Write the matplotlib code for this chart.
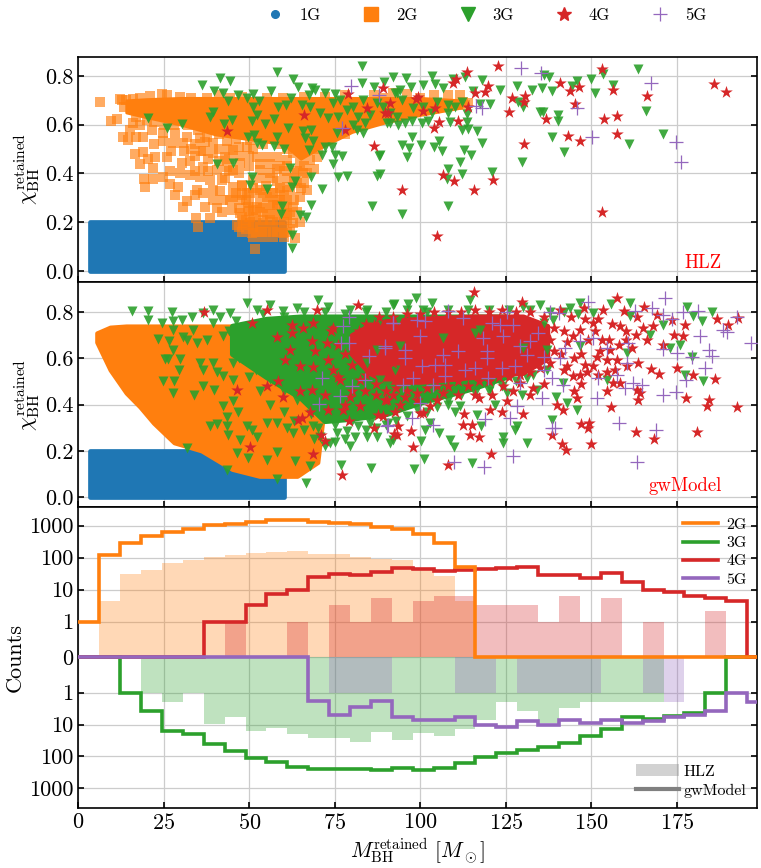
import numpy as np
import matplotlib
matplotlib.use("Agg")
import matplotlib.pyplot as plt
from matplotlib.lines import Line2D
from matplotlib.patches import Patch

plt.rcParams["font.family"] = "cmr10"
plt.rcParams["mathtext.fontset"] = "cm"
plt.rcParams["axes.unicode_minus"] = False
plt.rcParams["axes.formatter.use_mathtext"] = True

BLUE, ORANGE, GREEN, RED, PURPLE = "#1f77b4", "#ff7f0e", "#2ca02c", "#d62728", "#9467bd"

# Solid parts of the clouds, given as mass with lower and upper spin
hlz_1g_core = ([3.3, 60.0], [0.0, 0.0], [0.2, 0.2])
hlz_2g_band = ([14, 20, 30, 40, 60, 65, 70, 80, 90, 100, 112],
               [.65, .63, .60, .56, .52, .46, .50, .57, .61, .64, .67],
               [.70, .705, .71, .71, .71, .71, .71, .71, .71, .71, .70])
gw_1g_core = ([3.3, 60.0], [0.0, 0.0], [0.2, 0.2])
gw_2g_core = ([5.4, 9.3, 14, 18, 22, 28, 36, 45, 53, 64, 70, 72],
              [.67, .55, .45, .39, .32, .235, .2, .12, .09, .09, .15, .40],
              [.71, .735, .74, .74, .74, .74, .74, .74, .74, .74, .74, .74])
gw_3g_core = ([45, 55, 65, 72, 80, 90, 100, 115, 125],
              [.62, .52, .43, .33, .34, .36, .41, .47, .52],
              [.74, .77, .78, .78, .78, .78, .78, .78, .78])
gw_4g_core = ([80, 85, 90, 100, 115, 130, 137],
              [.62, .54, .50, .50, .52, .54, .60],
              [.70, .74, .76, .77, .78, .78, .74])

# Points of the upper panel (mass, spin)
hlz_2g = np.array([
    (6.3, .692), (9.6, .616), (11.2, .622), (12.7, .702), (13.4, .674), (13.2, .551), (14.6, .538),
    (16.9, .551), (16.6, .479), (19, .486), (18, .438), (20.5, .458), (22.4, .469), (21.7, .421),
    (19.2, .376), (21.9, .376), (19.5, .343), (24.9, .387), (26.8, .356), (29.2, .346), (28.3, .312),
    (30.5, .524), (27.8, .524), (24.9, .531), (25.8, .469), (26.8, .408), (29.7, .401), (32.7, .394),
    (35.8, .49), (32.7, .449), (30.2, .442), (30.7, .264), (31.9, .285), (34.1, .312), (36.5, .319),
    (37, .264), (40.4, .257), (38.5, .216), (34.3, .216), (35.1, .182), (41.9, .243), (44.8, .25),
    (44.3, .291), (47.3, .237), (48.2, .196), (46.5, .189), (50.7, .155), (53.6, .161), (57, .161),
    (59.9, .155), (63.4, .134), (51.7, .089), (39.5, .332), (41.4, .326), (38.5, .373), (41.9, .373),
    (45.3, .415), (47.3, .442), (43.4, .428), (40.4, .415), (36.5, .428), (35.6, .387), (39.5, .524),
    (43.4, .531), (37.5, .551), (35.6, .544), (31.7, .551), (28.3, .565), (24.9, .565), (21.4, .579),
    (18, .599), (16.1, .606), (48.2, .565), (49.2, .51), (52.1, .469), (56, .401), (54.1, .38),
    (51.2, .373), (49.2, .319), (52.1, .319), (55.1, .305), (58, .291), (60.9, .346), (63.8, .36),
    (65.8, .401), (64.8, .305), (62.9, .264), (60.9, .237), (58, .209), (55.1, .237), (52.1, .264),
    (50.2, .223), (54.1, .196), (51.2, .182), (58, .25), (62.9, .196), (64.8, .202), (59, .326),
    (53.1, .415), (55.1, .469), (58, .469), (60.9, .456), (62.9, .483), (64.8, .442), (67.7, .456),
    (66.8, .401), (69.7, .469), (45.3, .346), (47.8, .353), (45.3, .305), (49.7, .264), (47.3, .291),
    (42.4, .291), (39.5, .291), (34.6, .332), (36.5, .49), (39.5, .483), (42.9, .469), (45.3, .497),
    (50.2, .538), (12.2, .706), (16.1, .706), (21, .718), (24.6, .726), (29.7, .715), (37.5, .709),
    (44.3, .709), (55.1, .711), (59.9, .711), (86.3, .722), (111.6, .722), (112.6, .695),
    (48, .16), (51, .14), (54, .14), (57, .14), (60, .14), (62, .17), (47, .18), (50, .19), (53, .18),
    (56, .18), (59, .18), (61, .21), (48, .22), (52, .22), (56, .21), (59, .23), (62, .23), (64, .24),
    (47, .26), (51, .25), (54, .26), (57, .27), (60, .27), (63, .29), (46, .32), (49, .29), (51, .34),
    (54, .32), (57, .32), (60, .31), (62, .33), (65, .34), (48, .35), (55, .35), (58, .37), (61, .38),
    (63, .40), (66, .36), (67, .33), (41, .56), (44, .57), (46, .54), (47, .51), (51, .5), (54, .52),
    (56, .55), (59, .52), (61, .5), (63, .53), (66, .50), (68, .52), (70, .5), (72, .55), (75, .56),
    (78, .56), (66, .43), (69, .42), (59, .43), (56, .44), (50, .43), (47, .40), (43, .38), (44, .46),
    (38, .46), (34, .41), (33, .5), (35, .58), (32, .6), (28, .6), (25, .6), (22, .61), (20, .62),
    (17, .63), (27, .49), (22, .52), (19, .55), (15, .58), (37, .61), (42, .6), (14, .7), (18, .71),
    (26, .72), (33, .71), (41, .72), (48, .715), (66, .715), (72, .715), (78, .72), (92, .73), (96, .725),
    (104, .72), (108, .72), (89, .71), (100, .71), (114, .69), (113, .68),
    (49, .17), (52, .16), (55, .16), (58, .16), (61, .16), (49, .21), (51, .2), (54, .21), (57, .2),
    (60, .2), (50, .245), (53, .24), (56, .235), (58, .27), (61, .25), (50, .28), (53, .28), (56, .28),
    (59, .29), (61, .29), (48, .31), (50, .32), (53, .33), (56, .32), (59, .34), (57, .38), (60, .41),
    (63, .37), (58, .42), (61, .43), (64, .41), (53, .44), (50, .47), (47, .47), (44, .5), (41, .5),
    (37, .53), (34, .52), (31, .49), (34, .47), (41, .45), (38, .41), (44, .41),
])
hlz_3g = np.array([
    (20.5, .627), (25.8, .588), (30.2, .603), (36.3, .763), (41.4, .793), (44.2, .781), (39.8, .739),
    (42.4, .729), (38.5, .633), (39.5, .651), (42.6, .603), (45, .62), (43.9, .698), (46.8, .722),
    (49.4, .709), (51.2, .725), (52.9, .698), (56.2, .739), (58, .818), (62.9, .788), (64.3, .754),
    (51, .674), (52.3, .64), (50.7, .613), (54.6, .602), (57.3, .622), (58.5, .674), (61.4, .585),
    (62.1, .709), (60.7, .681), (65.3, .681), (68.2, .75), (69.2, .743), (67.3, .722), (72.1, .729),
    (74.9, .726), (82.8, .839), (82.8, .77), (91.9, .797), (89.4, .777), (86.5, .754), (49.7, .551),
    (51.5, .558), (52.1, .524), (53.6, .517), (58.2, .551), (57.3, .514), (60.1, .501), (65.8, .572),
    (67.9, .579), (66.3, .544), (68.7, .531), (67.5, .497), (71.2, .476), (72.1, .51), (74.1, .51),
    (74.9, .476), (77.2, .473), (74.6, .438), (76, .387), (78.5, .391), (87.4, .391), (88, .473),
    (85.8, .267), (40.4, .438), (45.3, .442), (50.7, .387), (50.2, .353), (55.3, .337), (63.4, .367),
    (62.4, .346), (67.9, .387), (71.2, .337), (61.9, .424), (67.9, .271), (59.6, .267), (59.4, .234),
    (64.8, .23), (66.5, .22), (62.6, .148), (62.6, .093), (95.7, .793), (97.2, .756), (100.9, .763),
    (103.3, .8), (104.3, .767), (106.5, .752), (109.6, .787), (113, .797), (117.9, .784), (115.5, .74),
    (123.3, .743), (128.2, .759), (132.5, .743), (135.5, .752), (138.4, .74), (137.7, .795), (136, .802),
    (144.2, .759), (145.9, .781), (149.8, .788), (151.1, .729), (153.3, .808), (156.4, .763), (163.7, .829),
    (166, .657), (171, .562), (161.1, .521), (142.1, .487), (138.6, .551), (129.8, .446), (135, .651),
    (135.9, .654), (140.3, .64), (140.1, .617), (130.1, .672), (128.6, .692), (120.4, .685), (117.4, .685),
    (113.5, .644), (113.7, .61), (112.1, .579), (114, .581), (116.5, .575), (117.9, .524), (112.9, .497),
    (114.7, .476), (111.6, .446), (112.1, .398), (108, .417), (121, .405), (108, .267), (107.7, .376),
    (94.7, .234), (94.5, .517), (96.8, .506), (96, .469), (100.3, .517), (104.1, .51), (105.5, .531),
    (106.4, .49), (97.5, .551), (88.2, .476), (88.2, .398), (90.1, .606), (93.6, .599), (95.5, .606),
    (97.5, .617), (100.4, .606), (102.3, .613), (108.7, .609), (108.2, .647), (103.3, .647), (97.9, .668),
    (94.5, .702), (92.6, .729), (94, .743), (100.9, .674), (104.8, .695), (108.2, .681), (110.1, .674),
    (112.1, .695), (91.1, .647), (74.6, .688), (76.5, .702), (78.5, .661), (80.4, .674), (81.9, .633),
    (83.8, .606), (80.4, .599), (85.3, .64), (87.2, .688), (91.1, .606), (93.1, .633), (89.2, .674),
    (76, .633), (73.1, .627), (70.7, .647), (67.7, .674), (83.3, .702), (83.3, .565), (81.4, .579),
    (93.1, .729), (75.5, .565),
])
hlz_4g = np.array([
    (89.2, .75), (113.7, .818), (122.8, .841), (153, .828), (185.7, .765), (189.3, .736), (110.4, .787),
    (109.6, .77), (119.7, .759), (116, .729), (118.9, .733), (140.8, .773), (143.6, .74), (146.5, .756),
    (156.4, .743), (126.9, .711), (130.6, .718), (130.3, .692), (166.2, .718), (145.2, .684), (125.9, .654),
    (153.7, .625), (157.4, .636), (136.6, .625), (114, .672), (100.9, .658), (104.3, .668), (99.4, .713),
    (91.1, .688), (90.6, .647), (98.7, .705), (111.1, .613), (105.5, .609), (104.1, .588), (143.3, .555),
    (146.7, .535), (157.4, .562), (130.3, .521), (106.5, .394), (109.8, .367), (121.1, .373), (115.8, .332),
    (94.7, .332), (105, .144), (153, .243), (43.6, .572), (66, .64), (78.8, .725), (78, .579), (84.3, .67),
    (89.7, .647), (86.3, .514),
])
hlz_5g = np.array([
    (129.3, .832), (135.2, .814), (167.3, .77), (116.3, .677), (117.9, .668), (145.9, .668), (150.3, .549),
    (174.6, .527), (176.2, .446), (79.6, .759), (88, .72), (77.2, .588),
])

# Points of the middle panel (mass, spin)
gw_3g = np.array([
    (15.8, .806), (20.3, .806), (20.3, .764), (24.6, .755), (27.5, .8), (27.8, .76), (33.3, .778),
    (30.2, .764), (23.4, .685), (26.6, .676), (30.5, .692), (27.8, .637), (25.3, .598), (26.3, .598),
    (29.7, .598), (29.4, .548), (24.9, .5), (28.1, .5), (27.8, .45), (31.9, .212), (33.9, .443),
    (36.5, .479), (39.8, .464), (38.5, .306), (40.6, .317), (43.4, .306), (43.7, .267), (43.4, .346),
    (42.4, .392), (45.3, .414), (46.8, .37), (46.5, .19), (49.7, .169), (43.4, .115), (76.7, .14),
    (85.5, .125), (66.6, .06), (58.2, .079), (67.7, .135), (63.4, .154), (55.1, .161), (58, .197),
    (49.2, .306), (50.7, .291), (52.1, .262), (55.1, .32), (58, .32), (60.9, .298), (62.9, .277),
    (47.3, .248), (36.5, .796), (39.5, .81), (41.4, .781), (44.3, .796), (49.2, .839), (52.1, .81),
    (56, .832), (59.9, .803), (63.8, .817), (70.2, .853), (73.1, .824), (79.4, .81), (84.3, .81),
    (92.1, .832), (34.6, .666), (37.5, .68), (35.6, .579), (39.5, .579), (42.4, .522), (45.3, .579),
    (39.5, .752), (42.4, .695), (31.7, .68), (33.6, .724), (27.8, .724), (36.5, .551), (40.4, .543),
    (45.3, .507), (73.6, .234), (79.4, .219), (84.3, .262), (87.2, .262), (91.1, .234), (70.7, .262),
    (75.5, .277), (78.5, .284), (81.9, .306), (85.3, .32), (68.7, .306), (98.7, .863), (103.3, .839),
    (114.5, .853), (92.3, .836), (96.5, .836), (146.7, .839), (150.6, .796), (155.6, .835), (161.3, .839),
    (161.3, .784), (171, .745), (177.9, .824), (179.6, .784), (182.3, .76), (185.2, .799), (167.1, .702),
    (173, .644), (175.9, .659), (179.5, .608), (177.4, .529), (182.5, .503), (160.3, .623), (154.5, .507),
    (146.7, .652), (142.8, .406), (145.7, .375), (139.6, .435), (138.4, .332), (131.1, .236), (127.7, .291),
    (128.2, .308), (124.1, .262), (124.3, .236), (129.6, .443), (125.2, .45), (121.8, .399), (116.5, .356),
    (117.7, .308), (110.1, .37), (108.2, .399), (111.6, .392), (108.7, .248), (109.8, .215), (105.5, .277),
    (101.4, .291), (102.8, .32), (100.2, .241), (101.2, .166), (98.2, .121), (115, .147), (92.1, .245),
    (90.6, .32), (91.1, .464), (97.9, .428), (120.4, .471), (131.1, .515), (134, .464), (141.8, .493),
    (130.1, .824), (135, .832), (143.8, .817), (47, .6), (50, .52), (53, .46), (56, .4), (60, .37), (63, .33),
    (66, .29), (69, .25), (72, .22), (75, .24), (78, .25), (81, .26), (84, .29), (87, .3), (90, .31), (93, .33),
    (96, .35), (99, .38), (102, .37), (105, .39), (108, .42), (112, .44), (116, .45), (120, .46), (124, .48),
    (128, .5), (133, .53), (137, .55), (70, .3), (75, .31), (80, .33), (85, .35), (60, .46), (64, .42),
    (68, .36), (52, .55), (56, .51), (48, .66), (44, .72), (46, .76), (54, .79), (60, .78), (66, .8), (72, .8),
    (78, .79), (84, .8), (90, .8), (96, .81), (102, .8), (108, .81), (114, .81), (120, .81), (126, .81),
    (132, .81), (138, .8), (142, .8), (146, .79),
])
# 3G points that stay visible through the 4G crowd
gw_3g_front = np.array([
    (88.2, .767), (116, .709), (117.4, .724), (106.7, .688), (130.1, .644), (136.9, .637), (138.9, .767),
    (136, .752), (94, .652), (93.6, .767), (100.9, .81), (92.6, .551), (98.4, .45), (94, .45), (90.1, .479),
    (98.9, .421), (87.2, .637), (88.2, .507), (84.3, .378), (84.3, .579), (92.1, .464), (88.2, .392),
])
gw_4g = np.array([
    (36.7, .8), (55.1, .81), (50.9, .752), (58.2, .692), (61.9, .637), (60.4, .594), (64.8, .565),
    (58.5, .503), (55.1, .479), (46.5, .464), (59.9, .435), (64.8, .457), (68.2, .464), (65.3, .342),
    (64.3, .334), (67.7, .37), (70.9, .27), (72.1, .241), (68.7, .186), (50.2, .215), (77.2, .094),
    (69.7, .81), (81.9, .832), (62.4, .745), (65.8, .731), (62.4, .709), (68.7, .752), (68.2, .673),
    (69.2, .63), (68.7, .562), (73.1, .378), (73.1, .594), (74.6, .731), (76.5, .507), (77.4, .378),
    (79, .327), (82.4, .392), (86.3, .298), (87.7, .356), (92.6, .37), (93.1, .27), (89.7, .421),
    (79.4, .435), (86.3, .745), (74.6, .551), (82.4, .507), (80.4, .637), (72.6, .666), (83.8, .457),
    (92.1, .579), (115.8, .889), (157.4, .861), (165.5, .824), (186.8, .77), (190, .745), (193, .774),
    (177.4, .745), (169.1, .788), (173.5, .767), (163.2, .781), (174, .702), (176.9, .695), (166.2, .68),
    (171, .659), (167.3, .554), (169.9, .532), (175.1, .558), (179.8, .529), (186, .512), (163.7, .579),
    (161.8, .644), (157.4, .594), (154.5, .594), (151.6, .608), (148.6, .543), (144.7, .522), (156.4, .493),
    (154.5, .457), (163.2, .464), (164.2, .45), (163.7, .421), (177.7, .428), (184.5, .418), (183.7, .392),
    (192.5, .388), (155.7, .388), (144.9, .457), (145.9, .428), (139.9, .399), (141.8, .378), (130.1, .36),
    (125.2, .414), (120.4, .378), (123.8, .37), (112.9, .359), (112.6, .313), (115, .313), (114.5, .27),
    (117, .259), (100.9, .363), (97.2, .288), (93.6, .306), (92.3, .272), (97.9, .215), (108.2, .14),
    (120.6, .186), (138.6, .27), (141.3, .229), (142.6, .205), (149.9, .229), (146.9, .317), (149.4, .32),
    (149.1, .298), (163.1, .28), (168.4, .252), (180.8, .281), (132.1, .443), (129.1, .493), (124.3, .479),
    (117, .428), (111.1, .443), (106.7, .45), (102.8, .392), (94, .399), (95.5, .435), (90.1, .421),
    (89.2, .349), (100, .363), (129.6, .846), (140.8, .81), (147.7, .817), (153.5, .81), (159.4, .803),
    (150.6, .752), (153, .68), (158.4, .738), (146.7, .724), (144.7, .695), (142.8, .565), (146.7, .529),
    (150.6, .565), (152.5, .63), (155.5, .637), (160.3, .565), (158.4, .493), (154.5, .543),
    (74, .72), (76, .66), (78, .62), (80, .57), (82, .72), (84, .67), (86, .6), (84, .53), (87, .49), (90, .46),
    (93, .47), (96, .46), (99, .45), (102, .47), (105, .48), (108, .48), (111, .5), (114, .48), (117, .5),
    (120, .5), (123, .52), (126, .52), (129, .53), (132, .54), (135, .56), (138, .58), (139, .63), (138, .68),
    (139, .73), (136, .78), (132, .8), (128, .8), (124, .81), (120, .8), (116, .81), (112, .8), (108, .8),
    (104, .8), (100, .79), (96, .79), (92, .78), (88, .78), (84, .75), (141, .62), (143, .67), (145, .6),
    (142, .72), (147, .62), (149, .68), (151, .72), (152, .77), (156, .75), (160, .72), (163, .7), (155, .68),
    (158, .66), (148, .77), (144, .78), (160, .68), (165, .73), (168, .74), (142, .55), (148, .57), (157, .55),
    (152, .53), (147, .49), (136, .49), (133, .47), (127, .46), (121, .44), (116, .44), (105, .42), (99, .42),
    (92, .44), (87, .44), (80, .46), (76, .52), (72, .44), (78, .4),
])
gw_5g = np.array([
    (171.5, .861), (149.1, .846), (167.6, .817), (162.8, .803), (170.9, .788), (173.5, .77), (176.9, .8),
    (181.3, .807), (192.7, .777), (188.6, .724), (189.6, .716), (181.8, .695), (196.6, .666), (184.5, .637),
    (185.4, .611), (170.9, .64), (175, .623), (179.3, .608), (183.2, .558), (177.6, .507), (170.9, .443),
    (174.7, .453), (151.7, .428), (158.2, .32), (168.9, .291), (163.2, .15), (139.4, .298), (138.4, .298),
    (127.2, .176), (118.7, .13), (109.8, .15), (118.9, .337), (126.2, .342), (128.2, .392), (103.8, .313),
    (90.3, .308), (97.5, .342), (99.9, .406), (135.7, .428), (141.6, .486), (138.4, .515), (152, .515),
    (157.4, .529), (160.8, .666), (160.3, .579), (162.3, .493), (164.7, .486), (159.8, .471), (154.5, .644),
    (150.6, .688), (146.7, .673), (142.3, .644), (140.8, .601), (136, .551), (134.5, .709), (137.9, .8),
    (140.4, .796), (125.2, .8), (108.2, .803), (112.6, .774), (101.4, .76), (98.9, .767), (92.1, .752),
    (123.3, .745), (120.9, .752), (127.2, .745), (124.3, .695), (118.4, .688), (99.9, .695), (89.7, .652),
    (95.5, .637), (95.5, .601), (106.7, .616), (111.1, .63), (119.4, .63), (119.4, .601), (132.1, .673),
    (129.1, .652), (136, .608), (131.1, .616), (100.4, .568), (104.3, .572), (107.2, .572), (113.1, .551),
    (116, .558), (123.8, .558), (127.7, .565), (119.9, .515), (129.1, .493), (97.9, .515), (95, .486),
    (103.8, .486), (107.2, .522), (70.5, .404), (71.2, .515), (76.5, .438), (79.9, .479), (83.8, .507),
    (76.7, .666), (79.2, .666), (77.5, .738), (79.2, .781), (85.1, .611), (89.7, .647), (92.1, .752),
    (90.4, .31),
])

# Histogram counts per mass bin, gwModel lines
bin_width = 6.11
counts_2g = [1, 118, 294, 475, 650, 765, 1020, 1130, 1300, 1500, 1500, 1300, 1200, 1100, 890, 770, 550, 290, 51,
             0, 0, 0, 0, 0, 0, 0, 0, 0, 0, 0, 0, 0, 0]
counts_3g = [0, 0, 1, 3.8, 16, 20, 42, 68, 110, 150, 210, 250, 250, 250, 270, 230, 270, 230, 165, 105, 80, 63,
             50, 39, 23, 14, 5.9, 6.6, 5.5, 4.3, 1, 0, 0]
counts_4g = [0, 0, 0, 0, 0, 0, 1, 1, 3.2, 7.1, 10, 25, 30, 28, 35, 46, 43, 37, 40, 43, 46, 50, 28, 28, 22.5, 33,
             17, 10, 8.4, 6.3, 5.5, 4.4, 0]
counts_5g = [0, 0, 0, 0, 0, 0, 0, 0, 0, 0, 0, 1.9, 4.9, 2.8, 1.9, 5.9, 7, 7, 5.9, 10, 12, 7.8, 10, 7, 9, 7, 9,
             7.8, 5.9, 4.9, 3.8, 1, 2]

# HLZ filled histograms
hlz_counts_2g = [0, 4.3, 30, 41, 66, 83, 107, 118, 136, 150, 160, 128, 128, 107, 92, 82, 48, 26, 4.4,
                 0, 0, 0, 0, 0, 0, 0, 0, 0, 0, 0, 0, 0, 0]
hlz_counts_3g = [0, 0, 0, 1, 2, 1, 9.3, 6, 16, 13, 20, 27, 27, 35, 17, 30, 19, 23, 14, 7, 2, 3.8, 9, 3, 2, 2, 2,
                 2, 0, 0, 0, 0, 0]
hlz_counts_4g = [0, 0, 0, 0, 0, 0, 0, 1, 0, 0, 1, 0, 3.2, 1, 5.3, 1, 4.4, 6.2, 6.2, 3.2, 3.2, 3.2, 1, 6.2, 1,
                 5.3, 0, 1, 0, 0, 2.1, 0, 0]
hlz_counts_5g = [0, 0, 0, 0, 0, 0, 0, 0, 0, 0, 0, 0, 1, 1, 1, 0, 0, 0, 1, 1, 0, 1, 1, 1, 1, 0, 0, 1, 2,
                 0, 0, 0, 0]

count_ticks = [-1000, -100, -10, -1, 0, 1, 10, 100, 1000]
mass_ticks = [0, 25, 50, 75, 100, 125, 150, 175]
spin_ticks = [0.0, 0.2, 0.4, 0.6, 0.8]


def draw_core(ax, core, color, width, zorder):
    ax.fill_between(core[0], core[1], core[2], color=color, lw=width, joinstyle="round", zorder=zorder)


def draw_points(ax, points, style, zorder):
    kw = dict(style)
    ax.scatter(points[:, 0], points[:, 1], zorder=zorder, **kw)


def style_axis(ax):
    ax.grid(True, color="#cccccc", lw=0.9)
    ax.set_axisbelow(True)
    ax.tick_params(direction="in", length=4.3, width=1.2, labelsize=16, left=True, right=True, bottom=True, top=False)
    for spine in ax.spines.values():
        spine.set_linewidth(1.2)


marker_2g = dict(marker="s", s=46, color=ORANGE, alpha=0.65, linewidths=0)
marker_3g = dict(marker="v", s=52, color=GREEN, alpha=0.9, linewidths=0)
marker_4g = dict(marker="*", s=90, color=RED, alpha=1.0, linewidths=0)
marker_5g = dict(marker="+", s=100, color=PURPLE, linewidths=0.9)

fig, axes = plt.subplots(3, 1, sharex=True, figsize=(7.61, 8.68), dpi=100,
                         gridspec_kw=dict(height_ratios=[3, 3, 4], hspace=0))
fig.subplots_adjust(left=0.1029, right=0.9947, top=0.9347, bottom=0.0691)
ax_hlz, ax_gw, ax_hist = axes

# HLZ scatter
draw_core(ax_hlz, hlz_1g_core, BLUE, 3.4, 1)
draw_points(ax_hlz, hlz_2g, marker_2g, 2)
draw_core(ax_hlz, hlz_2g_band, ORANGE, 2, 2)
draw_points(ax_hlz, hlz_3g, marker_3g, 3)
draw_points(ax_hlz, hlz_4g, marker_4g, 4)
draw_points(ax_hlz, hlz_5g, marker_5g, 5)
ax_hlz.set_ylim(-0.046, 0.879)
ax_hlz.text(0.948, 0.063, "HLZ", color="red", fontsize=13.5, ha="right", va="baseline", transform=ax_hlz.transAxes)

# gwModel scatter
draw_core(ax_gw, gw_1g_core, BLUE, 3.4, 1)
draw_core(ax_gw, gw_2g_core, ORANGE, 3, 2)
draw_core(ax_gw, gw_3g_core, GREEN, 4, 3)
draw_points(ax_gw, gw_3g, marker_3g, 3)
draw_core(ax_gw, gw_4g_core, RED, 4, 4)
draw_points(ax_gw, gw_3g_front, marker_3g, 4.1)
draw_points(ax_gw, gw_4g, marker_4g, 4.2)
draw_points(ax_gw, gw_5g, marker_5g, 5)
ax_gw.set_ylim(-0.045, 0.93)
ax_gw.text(0.948, 0.071, "gwModel", color="red", fontsize=13.5, ha="right", va="baseline", transform=ax_gw.transAxes)

for ax in (ax_hlz, ax_gw):
    style_axis(ax)
    ax.set_yticks(spin_ticks)
    ax.set_yticklabels([f"{t:.1f}" for t in spin_ticks])
    ax.set_ylabel(r"$\chi_{\rm BH}^{\rm retained}$", fontsize=16, labelpad=2)

# Mirrored histograms: 2G and 4G go up, 3G and 5G go down
edges = np.arange(len(counts_2g) + 1) * bin_width
for values, color in [(hlz_counts_2g, ORANGE), (hlz_counts_4g, RED)]:
    ax_hist.stairs(values, edges, fill=True, color=color, alpha=0.3, lw=0)
for values, color in [(hlz_counts_3g, GREEN), (hlz_counts_5g, PURPLE)]:
    ax_hist.stairs(-np.array(values), edges, fill=True, color=color, alpha=0.3, lw=0)

ax_hist.stairs(counts_2g, edges, color=ORANGE, lw=2.6, zorder=4, baseline=None)
ax_hist.stairs(-np.array(counts_3g), edges, color=GREEN, lw=2.6, zorder=3, baseline=None)
ax_hist.stairs(counts_4g, edges, color=RED, lw=2.6, zorder=3, baseline=None)
ax_hist.stairs(-np.array(counts_5g), edges, color=PURPLE, lw=2.6, zorder=5, baseline=None)

ax_hist.set_yscale("symlog", linthresh=1, linscale=1)
ax_hist.set_ylim(-4100, 3700)
style_axis(ax_hist)
ax_hist.set_yticks(count_ticks)
ax_hist.set_yticklabels([str(abs(t)) for t in count_ticks])
ax_hist.yaxis.set_minor_locator(plt.NullLocator())
ax_hist.set_ylabel("Counts", fontsize=16, labelpad=3)
ax_hist.set_xlabel(r"$M_{\rm BH}^{\rm retained}\ [M_\odot]$", fontsize=15.5, labelpad=3)
ax_hist.set_xlim(0, 198.4)
ax_hist.set_xticks(mass_ticks)

line_handles = [Line2D([], [], color=c, lw=2.6) for c in (ORANGE, GREEN, RED, PURPLE)]
leg_lines = ax_hist.legend(line_handles, ["2G", "3G", "4G", "5G"], loc="upper right", frameon=False, fontsize=11.5,
                           handlelength=2.2, handletextpad=0.5, labelspacing=0.25, borderaxespad=0.35, borderpad=0.3)
ax_hist.add_artist(leg_lines)
model_handles = [Patch(color="gray", alpha=0.35, lw=0), Line2D([], [], color="gray", lw=3)]
ax_hist.legend(model_handles, ["HLZ", "gwModel"], loc="lower right", frameon=False, fontsize=11.5,
               handlelength=2.7, handleheight=0.7, handletextpad=0.3, labelspacing=0.3,
               borderaxespad=0.35, borderpad=0.3)

# Generation legend above the panels
gen_handles = [Line2D([], [], ls="", marker="o", ms=5.5, color=BLUE),
               Line2D([], [], ls="", marker="s", ms=9.5, color=ORANGE),
               Line2D([], [], ls="", marker="v", ms=10, color=GREEN),
               Line2D([], [], ls="", marker="*", ms=10, color=RED),
               Line2D([], [], ls="", marker="+", ms=10, color=PURPLE, mew=0.9)]
fig.legend(gen_handles, ["1G", "2G", "3G", "4G", "5G"], loc="center left", ncol=5, frameon=False, fontsize=12,
           bbox_to_anchor=(258.3 / 761, 1 - 15 / 868), borderpad=0, borderaxespad=0,
           handlelength=2.0, handletextpad=0.5, columnspacing=2.0)

plt.savefig("out.png", dpi=100)
plt.close()
